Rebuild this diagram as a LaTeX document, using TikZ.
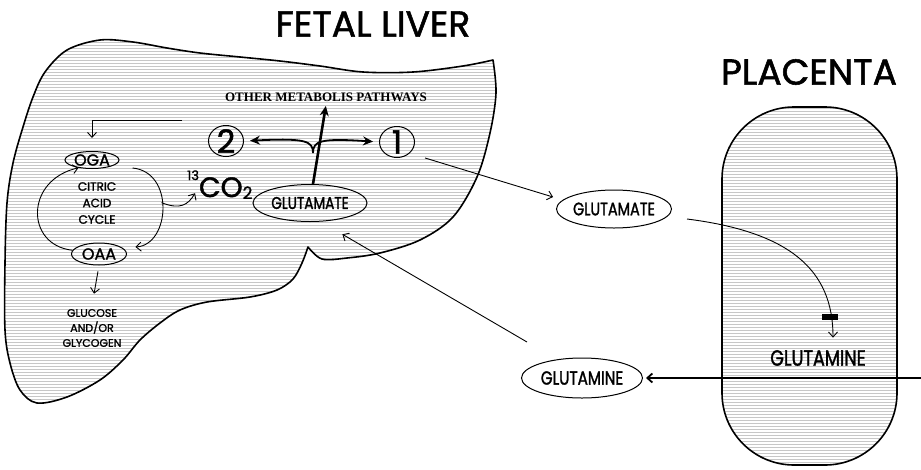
\documentclass[tikz,border=0pt]{standalone}
\usepackage{fontspec}
\usepackage{tikz}
\usetikzlibrary{arrows.meta,shapes.geometric,patterns}
\newfontfamily\gothic[FakeBold=1.5]{Poppins}
\newfontfamily\gothicnarrow[FakeStretch=0.8,FakeBold=1.5]{Poppins}
\newfontfamily\timesbold{Liberation Serif}

\begin{document}
\begin{tikzpicture}[x=1pt,y=-1pt,
  organ/.style={line width=1.6pt,line join=round,pattern=horizontal lines,pattern color=black!22},
  molecule/.style={draw,ellipse,line width=1pt,inner sep=0pt},
  pathno/.style={draw,ellipse,line width=1pt,inner sep=0pt,minimum width=35pt,minimum height=31pt},
  flow/.style={line width=0.9pt,-{Straight Barb[length=5pt,width=9pt]}},
  fork/.style={line width=1.8pt,-{Stealth[length=10pt,width=9pt]}},
  organname/.style={font=\gothic\fontsize{36}{40}\selectfont},
  metab/.style={font=\gothicnarrow\fontsize{#1}{#1}\selectfont},
  small/.style={font=\gothic\fontsize{#1}{#1}\selectfont},
  enzyme/.style={fill=black,minimum width=16pt,minimum height=6pt,inner sep=0pt}
]
  \useasboundingbox (0,0) rectangle (921,469);

  \draw[organ] plot[smooth,tension=0.55] coordinates {(493,60) (496,93) (490,133) (477,177) (453,217) (420,240) (380,253) (347,258) (322,259) (308,247)}
    -- plot[smooth,tension=0.55] coordinates {(308,247) (302,263) (293,279) (277,290) (250,297) (207,302) (180,310) (160,323) (140,340) (123,360) (100,380) (67,397) (37,403) (20,390) (10,363) (5,330) (5,263) (7,203) (13,163) (23,127) (33,97) (45,72) (67,50) (100,40) (133,42) (167,48) (200,53) (240,57) (280,61) (320,66) (363,72) (413,72) (463,66) (493,60)} -- cycle;
  \draw[organ,rounded corners=72pt] (722,107) rectangle (897,465);

  \node[organname] (liverTitle) at (373,24) {FETAL LIVER};
  \node[organname] (placentaTitle) at (809,72) {PLACENTA};

  \node[font=\timesbold\bfseries\fontsize{13}{13}\selectfont] (other) at (326,97) {OTHER METABOLIS PATHWAYS};
  \node[pathno,label={[small=32]center:2}] (two) at (226,141) {};
  \node[pathno,label={[small=32]center:1}] (one) at (397,142) {};
  \node[molecule,minimum width=114pt,minimum height=37pt,label={[metab=17]center:GLUTAMATE}] (gluLiver) at (310,203) {};
  \node[molecule,minimum width=54pt,minimum height=17pt,label={[small=16]center:OGA}] (oga) at (92,160) {};
  \node[molecule,minimum width=55pt,minimum height=22pt,label={[small=16]center:OAA}] (oaa) at (99,254) {};
  \node[align=center,font=\gothic\fontsize{12}{16.5}\selectfont] (tca) at (97,203) {CITRIC\\ACID\\CYCLE};
  \node[align=center,font=\gothic\fontsize{11}{15}\selectfont] (sugar) at (92,328) {GLUCOSE\\AND/OR\\GLYCOGEN};
  \node[small=28,anchor=base west,inner sep=0pt] (co2) at (187,197) {\raisebox{17pt}{\fontsize{13}{13}\selectfont 13}CO\raisebox{-2pt}{\fontsize{17}{17}\selectfont 2}};

  \node[molecule,minimum width=115pt,minimum height=38pt,label={[metab=18]center:GLUTAMATE}] (gluExport) at (614,209) {};
  \node[molecule,minimum width=121pt,minimum height=40pt,label={[metab=19]center:GLUTAMINE}] (glnReturn) at (582,378) {};
  \node[metab=22] (glnPlacenta) at (818,358) {GLUTAMINE};

  \coordinate (recycle) at (182,120);
  \coordinate (fork) at (313,153);
  \coordinate (inflow) at (921,378);
  \coordinate (glnTail) at (527,342);

  \draw[flow,shorten >=13pt] (recycle) -| (oga.north);
  \draw[flow] (oaa.172) .. controls (25,245) and (25,180) .. (oga.210);
  \draw[flow,shorten >=13pt] (oga.east) ++(13,8) .. controls (175,172) and (170,245) .. (oaa.15) coordinate[pos=0.45] (tcaout);
  \draw[flow] (tcaout) .. controls (180,210) and (188,205) .. ([xshift=8pt,yshift=6pt]co2.south west);
  \draw[flow,shorten <=6pt,shorten >=12pt] (oaa.south) -- (sugar.north);

  \draw[fork,line width=2.6pt,shorten >=1pt] ([xshift=3pt]gluLiver.north) -- (other.south);
  \draw[fork,shorten >=6pt] (fork) .. controls (313,141) and (306,138) .. (two.east);
  \draw[fork,shorten >=6pt] (fork) .. controls (313,141) and (320,138) .. (one.west);

  \draw[flow,shorten <=16pt,shorten >=10pt] (one.south east) -- (gluExport.170);
  \draw[flow,shorten >=9pt] ([xshift=15pt,yshift=-10pt]gluExport.east) .. controls (790,232) and (833,270) .. ([xshift=15pt]glnPlacenta.north) node[enzyme,pos=0.86] (synthase) {};
  \draw[flow,line width=1.8pt,shorten >=3pt] (inflow) -- (glnReturn.east);
  \draw[flow,shorten >=25pt] (glnTail) -- (gluLiver.-60);
\end{tikzpicture}
\end{document}
